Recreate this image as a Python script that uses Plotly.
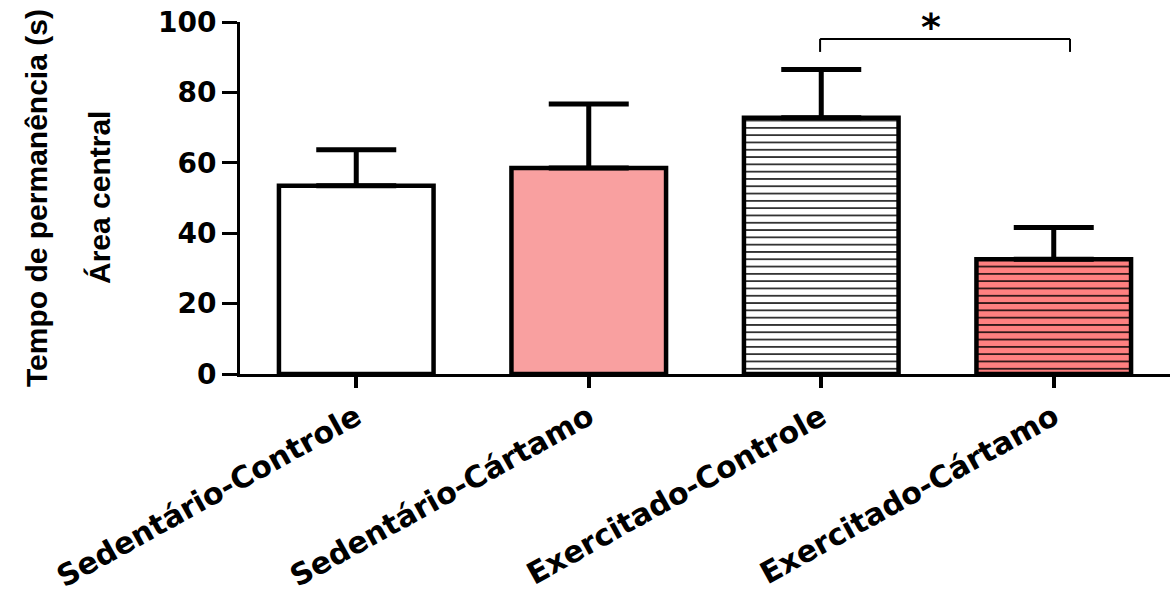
import plotly.graph_objects as go

# Tempo de permanência na área central (s), média + erro padrão
grupos = ["Sedentário-Controle", "Sedentário-Cártamo", "Exercitado-Controle", "Exercitado-Cártamo"]
medias = [53.5, 58.5, 72.8, 32.6]
erros = [10.2, 18.2, 13.7, 9.0]
cores = ["#FFFFFF", "#F9A0A0", "#FFFFFF", "#FF8080"]
padroes = ["", "", "-", "-"]
y_ticks = [0, 20, 40, 60, 80, 100]

fig = go.Figure()
# Um trace por grupo, para que cada barra tenha cor e hachura próprias
for grupo, media, erro, cor, padrao in zip(grupos, medias, erros, cores, padroes):
    fig.add_trace(go.Bar(
        x=[grupo],
        y=[media],
        width=0.665,
        marker=dict(
            color=cor,
            line=dict(color="black", width=4.5),
            pattern=dict(
                shape=padrao,
                fgcolor="black",
                bgcolor=cor,
                fgopacity=1,
                size=7.3,
                solidity=0.2,
            ),
        ),
        error_y=dict(
            type="data", symmetric=False, array=[erro], arrayminus=[0],
            color="black", thickness=5, width=40,
        ),
        showlegend=False,
    ))

# Barra de significância entre Exercitado-Controle e Exercitado-Cártamo
x_esq, x_dir = 1.995, 3.07
y_barra, y_pe = 95.2, 91.5
linha = dict(color="black", width=2)
fig.add_shape(type="line", xref="x", yref="y", x0=x_esq, x1=x_dir, y0=y_barra, y1=y_barra, line=linha)
fig.add_shape(type="line", xref="x", yref="y", x0=x_esq, x1=x_esq, y0=y_pe, y1=y_barra, line=linha)
fig.add_shape(type="line", xref="x", yref="y", x0=x_dir, x1=x_dir, y0=y_pe, y1=y_barra, line=linha)
fig.add_annotation(x=2.47, y=98.5, xref="x", yref="y", text="*", showarrow=False,
                   font=dict(family="DejaVu Sans", size=38, color="black", weight="bold"))

# Título do eixo y em duas linhas
titulo_fonte = dict(family="Liberation Sans, Arial, sans-serif", size=30, color="black", weight="bold")
L, W = 240, 930
fig.add_annotation(x=(36 - L) / W, y=0.5, xref="paper", yref="paper", text="Tempo de permanência (s)",
                   textangle=-90, showarrow=False, xanchor="center", yanchor="middle", font=titulo_fonte)
fig.add_annotation(x=(99 - L) / W, y=0.5, xref="paper", yref="paper", text="Área central",
                   textangle=-90, showarrow=False, xanchor="center", yanchor="middle", font=titulo_fonte)

fig.update_layout(
    width=1176, height=596,
    margin=dict(l=240, r=6, t=22, b=222),
    paper_bgcolor="white", plot_bgcolor="white",
    barmode="overlay",
    xaxis=dict(
        type="category", range=[-0.5, 3.5], categoryorder="array", categoryarray=grupos,
        automargin=False,
        showline=True, linecolor="black", linewidth=3,
        ticks="outside", ticklen=11, tickwidth=4, tickcolor="black",
        tickangle=-29,
        tickfont=dict(family="DejaVu Sans", size=30, color="black", weight="bold"),
        showgrid=False, zeroline=False,
    ),
    yaxis=dict(
        range=[0, 100], tickvals=y_ticks, automargin=False,
        showline=True, linecolor="black", linewidth=3,
        ticks="outside", ticklen=15, tickwidth=3, tickcolor="black",
        tickfont=dict(family="DejaVu Sans", size=28, color="black", weight="bold"),
        showgrid=False, zeroline=False,
    ),
)

fig.write_html("out.html")
